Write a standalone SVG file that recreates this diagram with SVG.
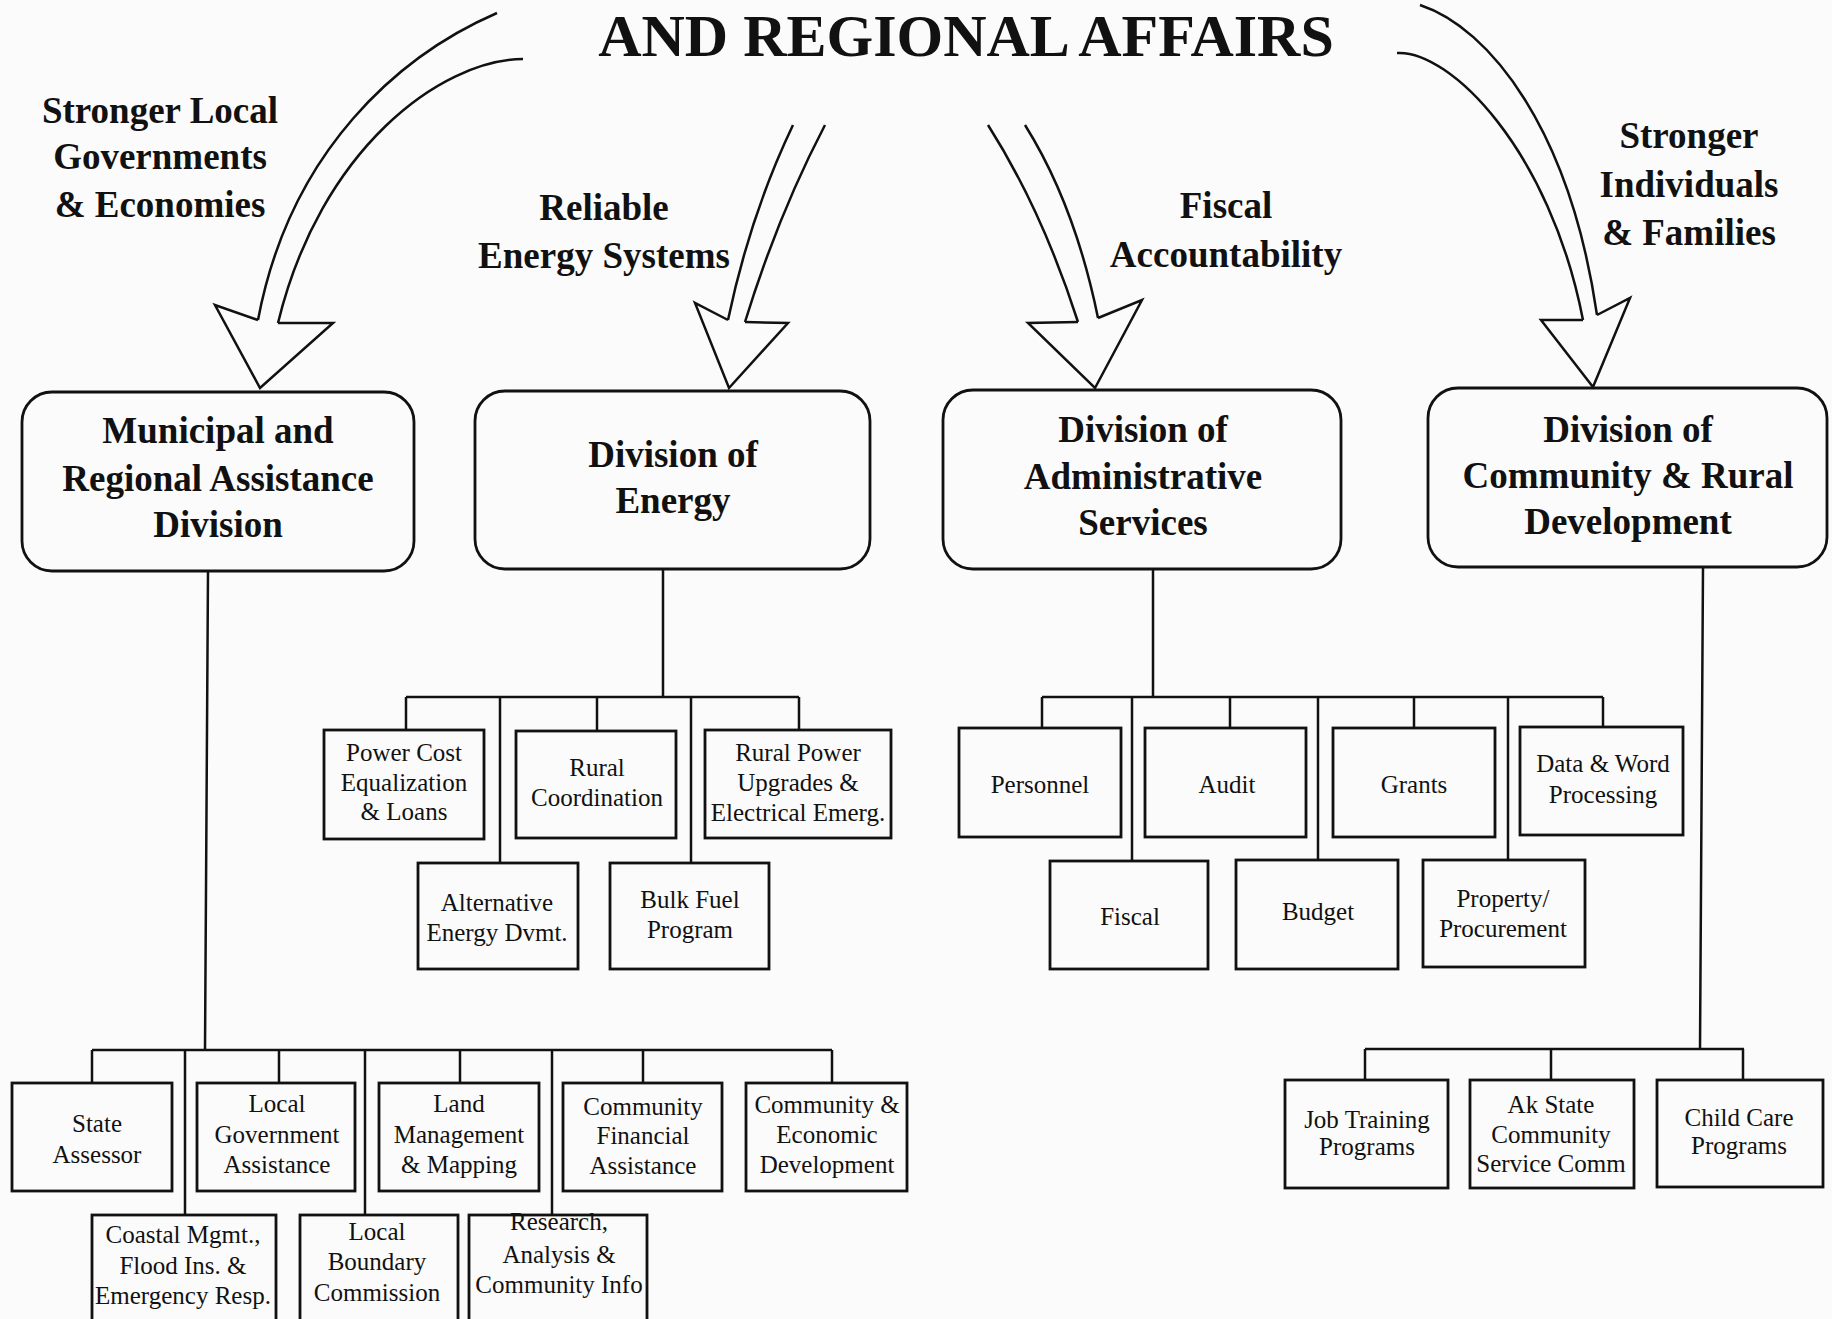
<svg xmlns="http://www.w3.org/2000/svg" width="1832" height="1319" viewBox="0 0 1832 1319">
<style>
.bg{fill:#fbfbfb}
.div{fill:none;stroke:#111;stroke-width:2.8}
.box{fill:none;stroke:#111;stroke-width:2.8}
.ln{fill:none;stroke:#111;stroke-width:2.5}
.arr{fill:none;stroke:#111;stroke-width:2.5;stroke-linejoin:miter}
.title{font-family:"Liberation Serif","Times New Roman",serif;font-weight:bold;font-size:60px;fill:#111;text-anchor:middle}
.goal{font-family:"Liberation Serif","Times New Roman",serif;font-weight:bold;font-size:37px;fill:#111;text-anchor:middle}
.dt{font-family:"Liberation Serif","Times New Roman",serif;font-weight:bold;font-size:37px;fill:#111;text-anchor:middle}
.st{font-family:"Liberation Serif","Times New Roman",serif;font-size:25px;fill:#111;text-anchor:middle}
</style>
<rect class="bg" x="0" y="0" width="1832" height="1319"/>
<text class="title" x="966" y="56">AND REGIONAL AFFAIRS</text>

<g id="goal-arrows">
  <g id="arrow-local">
    <path class="arr" d="M497,13 C400,55 290,150 258,320"/>
    <path class="arr" d="M523,59 C440,60 320,150 278,323"/>
    <path class="arr" d="M258,320 L215,305 L260,388 L333,323 L278,323"/>
  </g>
  <g id="arrow-energy">
    <path class="arr" d="M793,125 Q750,215 728,320"/>
    <path class="arr" d="M825,125 Q778,215 745,322"/>
    <path class="arr" d="M728,320 L695,303 L729,388 L788,323 L745,322"/>
  </g>
  <g id="arrow-fiscal">
    <path class="arr" d="M988,125 Q1042,210 1078,322"/>
    <path class="arr" d="M1025,125 Q1075,205 1098,318"/>
    <path class="arr" d="M1078,322 L1028,323 L1095,388 L1142,300 L1098,318"/>
  </g>
  <g id="arrow-families">
    <path class="arr" d="M1420,5 C1490,28 1570,130 1597,315"/>
    <path class="arr" d="M1397,53 C1450,50 1550,150 1583,320"/>
    <path class="arr" d="M1583,320 L1541,320 L1593,387 L1630,298 L1597,315"/>
  </g>
</g>

<g id="goal-labels">
  <text class="goal" x="160" y="123">Stronger Local</text>
  <text class="goal" x="160" y="169">Governments</text>
  <text class="goal" x="160" y="217">&amp; Economies</text>
  <text class="goal" x="604" y="220">Reliable</text>
  <text class="goal" x="604" y="268">Energy Systems</text>
  <text class="goal" x="1226" y="218">Fiscal</text>
  <text class="goal" x="1226" y="267">Accountability</text>
  <text class="goal" x="1689" y="148">Stronger</text>
  <text class="goal" x="1689" y="197">Individuals</text>
  <text class="goal" x="1689" y="245">&amp; Families</text>
</g>

<g id="connectors">
  <path class="ln" d="M208,571 L205,1050 M92,1050 H832 M92,1050 V1083 M185,1050 V1215 M279,1050 V1083 M365,1050 V1215 M460,1050 V1083 M552,1050 V1215 M643,1050 V1083 M832,1050 V1083"/>
  <path class="ln" d="M663,569 V697 M406,697 H799 M406,697 V730 M500,697 V863 M597,697 V731 M691,697 V863 M799,697 V730"/>
  <path class="ln" d="M1153,569 V697 M1042,697 H1603 M1042,697 V728 M1132,697 V861 M1230,697 V728 M1318,697 V860 M1414,697 V728 M1508,697 V860 M1603,697 V727"/>
  <path class="ln" d="M1703,567 L1700,1049 M1365,1049 H1744 M1365,1049 V1080 M1551,1049 V1080 M1743,1049 V1080"/>
</g>

<g id="div-municipal">
  <rect class="div" x="22" y="392" width="392" height="179" rx="30"/>
  <text class="dt" x="218" y="443">Municipal and</text>
  <text class="dt" x="218" y="491">Regional Assistance</text>
  <text class="dt" x="218" y="537">Division</text>
</g>
<g id="div-energy">
  <rect class="div" x="475" y="391" width="395" height="178" rx="30"/>
  <text class="dt" x="673" y="467">Division of</text>
  <text class="dt" x="673" y="513">Energy</text>
</g>
<g id="div-admin">
  <rect class="div" x="943" y="390" width="398" height="179" rx="30"/>
  <text class="dt" x="1143" y="442">Division of</text>
  <text class="dt" x="1143" y="489">Administrative</text>
  <text class="dt" x="1143" y="535">Services</text>
</g>
<g id="div-community">
  <rect class="div" x="1428" y="388" width="399" height="179" rx="30"/>
  <text class="dt" x="1628" y="442">Division of</text>
  <text class="dt" x="1628" y="488">Community &amp; Rural</text>
  <text class="dt" x="1628" y="534">Development</text>
</g>

<g id="power-cost">
  <rect class="box" x="324" y="730" width="160" height="109"/>
  <text class="st" x="404" y="761">Power Cost</text>
  <text class="st" x="404" y="791">Equalization</text>
  <text class="st" x="404" y="820">&amp; Loans</text>
</g>
<g id="rural-coordination">
  <rect class="box" x="516" y="731" width="160" height="107"/>
  <text class="st" x="597" y="776">Rural</text>
  <text class="st" x="597" y="806">Coordination</text>
</g>
<g id="rural-power">
  <rect class="box" x="705" y="730" width="186" height="108"/>
  <text class="st" x="798" y="761">Rural Power</text>
  <text class="st" x="798" y="791">Upgrades &amp;</text>
  <text class="st" x="798" y="821">Electrical Emerg.</text>
</g>
<g id="alternative-energy">
  <rect class="box" x="418" y="863" width="160" height="106"/>
  <text class="st" x="497" y="911">Alternative</text>
  <text class="st" x="497" y="941">Energy Dvmt.</text>
</g>
<g id="bulk-fuel">
  <rect class="box" x="610" y="863" width="159" height="106"/>
  <text class="st" x="690" y="908">Bulk Fuel</text>
  <text class="st" x="690" y="938">Program</text>
</g>

<g id="personnel">
  <rect class="box" x="959" y="728" width="162" height="109"/>
  <text class="st" x="1040" y="793">Personnel</text>
</g>
<g id="audit">
  <rect class="box" x="1145" y="728" width="161" height="109"/>
  <text class="st" x="1227" y="793">Audit</text>
</g>
<g id="grants">
  <rect class="box" x="1333" y="728" width="162" height="109"/>
  <text class="st" x="1414" y="793">Grants</text>
</g>
<g id="data-word">
  <rect class="box" x="1520" y="727" width="163" height="108"/>
  <text class="st" x="1603" y="772">Data &amp; Word</text>
  <text class="st" x="1603" y="803">Processing</text>
</g>
<g id="fiscal">
  <rect class="box" x="1050" y="861" width="158" height="108"/>
  <text class="st" x="1130" y="925">Fiscal</text>
</g>
<g id="budget">
  <rect class="box" x="1236" y="860" width="162" height="109"/>
  <text class="st" x="1318" y="920">Budget</text>
</g>
<g id="property">
  <rect class="box" x="1423" y="860" width="162" height="107"/>
  <text class="st" x="1503" y="907">Property/</text>
  <text class="st" x="1503" y="937">Procurement</text>
</g>

<g id="state-assessor">
  <rect class="box" x="12" y="1083" width="160" height="108"/>
  <text class="st" x="97" y="1132">State</text>
  <text class="st" x="97" y="1163">Assessor</text>
</g>
<g id="local-government">
  <rect class="box" x="197" y="1083" width="158" height="108"/>
  <text class="st" x="277" y="1112">Local</text>
  <text class="st" x="277" y="1143">Government</text>
  <text class="st" x="277" y="1173">Assistance</text>
</g>
<g id="land-management">
  <rect class="box" x="379" y="1083" width="160" height="108"/>
  <text class="st" x="459" y="1112">Land</text>
  <text class="st" x="459" y="1143">Management</text>
  <text class="st" x="459" y="1173">&amp; Mapping</text>
</g>
<g id="community-financial">
  <rect class="box" x="563" y="1083" width="159" height="108"/>
  <text class="st" x="643" y="1115">Community</text>
  <text class="st" x="643" y="1144">Financial</text>
  <text class="st" x="643" y="1174">Assistance</text>
</g>
<g id="community-economic">
  <rect class="box" x="746" y="1083" width="161" height="108"/>
  <text class="st" x="827" y="1113">Community &amp;</text>
  <text class="st" x="827" y="1143">Economic</text>
  <text class="st" x="827" y="1173">Development</text>
</g>
<g id="coastal">
  <rect class="box" x="92" y="1215" width="184" height="112"/>
  <text class="st" x="183" y="1243">Coastal Mgmt.,</text>
  <text class="st" x="183" y="1274">Flood Ins. &amp;</text>
  <text class="st" x="183" y="1304">Emergency Resp.</text>
</g>
<g id="local-boundary">
  <rect class="box" x="300" y="1215" width="158" height="112"/>
  <text class="st" x="377" y="1240">Local</text>
  <text class="st" x="377" y="1270">Boundary</text>
  <text class="st" x="377" y="1301">Commission</text>
</g>
<g id="research">
  <rect class="box" x="469" y="1215" width="178" height="112"/>
  <text class="st" x="559" y="1230">Research,</text>
  <text class="st" x="559" y="1263">Analysis &amp;</text>
  <text class="st" x="559" y="1293">Community Info</text>
</g>

<g id="job-training">
  <rect class="box" x="1285" y="1080" width="163" height="108"/>
  <text class="st" x="1367" y="1128">Job Training</text>
  <text class="st" x="1367" y="1155">Programs</text>
</g>
<g id="ak-state">
  <rect class="box" x="1470" y="1080" width="164" height="108"/>
  <text class="st" x="1551" y="1113">Ak State</text>
  <text class="st" x="1551" y="1143">Community</text>
  <text class="st" x="1551" y="1172">Service Comm</text>
</g>
<g id="child-care">
  <rect class="box" x="1657" y="1080" width="166" height="107"/>
  <text class="st" x="1739" y="1126">Child Care</text>
  <text class="st" x="1739" y="1154">Programs</text>
</g>
</svg>
